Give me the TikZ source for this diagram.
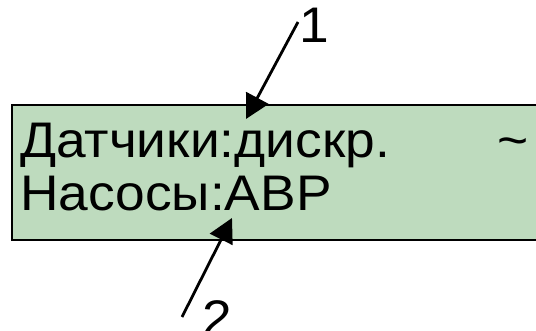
\documentclass[tikz,border=0pt]{standalone}
\usepackage{fontspec}
\setmainfont{Liberation Sans}[FakeStretch=1.066]
\usepackage{xcolor}
\usetikzlibrary{arrows.meta, positioning}
\definecolor{lcdgreen}{HTML}{BEDBBE}
\tikzstyle{screen} = [rectangle, draw=black, fill=lcdgreen, line width=2pt,
                      inner sep=0pt, anchor=north west]
\tikzstyle{lcdtext} = [inner sep=0pt, anchor=base west,
                       font=\fontsize{50}{55}\selectfont]
\tikzstyle{arrow} = [-{Triangle[length=24pt, width=25pt]}, line width=2.8pt]

\begin{document}
\begin{tikzpicture}[x=1pt, y=-1pt]
    \useasboundingbox (0,0) rectangle (536,331);
    \node[screen, minimum width=540pt, minimum height=135pt] (lcd) at (11,104) {};

    \node[lcdtext] (sensors) at (20,158) {Датчики:дискр.};
    \node[lcdtext] (tilde) at (497,158) {\textasciitilde};
    \node[lcdtext] (pumps) at (20,211) {Насосы:АВР};

    \node[lcdtext] (lblone) at (299,43) {1};
    \node[lcdtext] (lbltwo) at (202,336) {2};

    \coordinate (startone) at (298,22);
    \coordinate (tipone) at (246,119);
    \coordinate (starttwo) at (182,317);
    \coordinate (tiptwo) at (232,218);

    \draw[arrow] (startone) -- (tipone);
    \draw[arrow] (starttwo) -- (tiptwo);
\end{tikzpicture}
\end{document}
